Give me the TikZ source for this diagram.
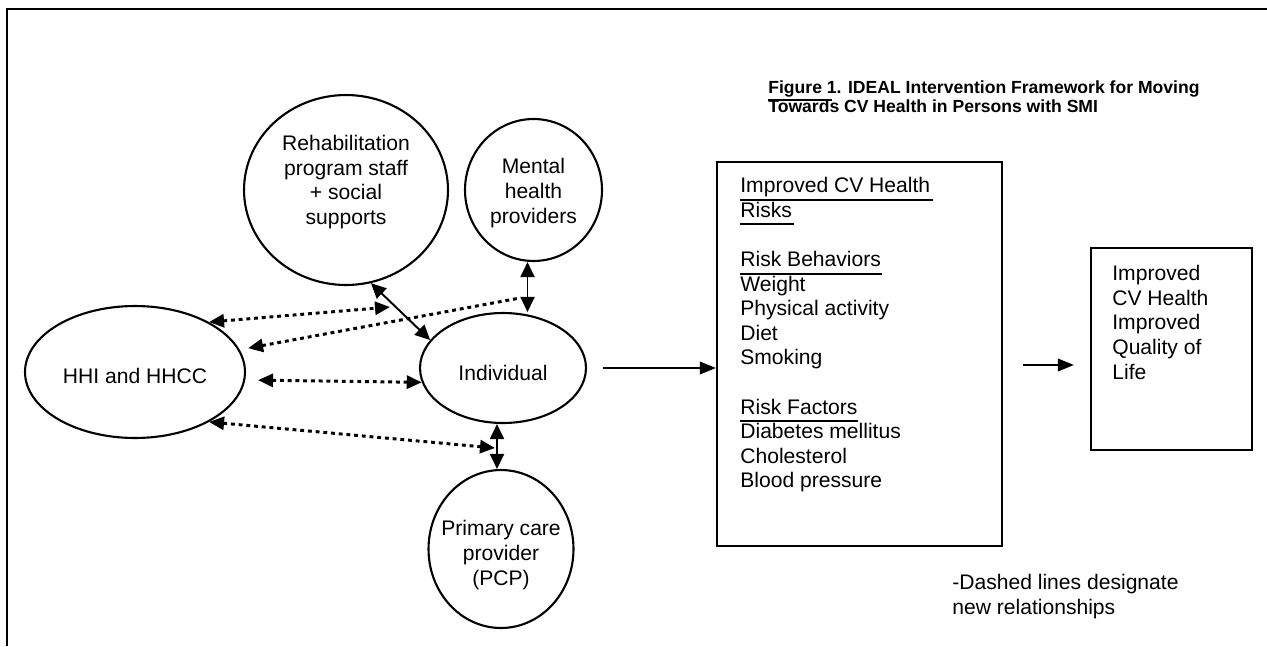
\documentclass[tikz,border=0pt]{standalone}
\usepackage{fontspec}
\setmainfont{Liberation Sans}
\usetikzlibrary{shapes.geometric,arrows.meta,calc}
\begin{document}
\begin{tikzpicture}[x=0.02cm,y=-0.02cm,
  txt/.style={font=\fontsize{12}{14}\selectfont},
  oval/.style={draw,ellipse,line width=1.2pt,inner sep=0pt},
  lab/.style 2 args={label={[txt,align=center,yshift=#1]center:#2}},
  both/.style={line width=1.1pt,{Triangle[length=0.3cm,width=0.28cm]}-{Triangle[length=0.3cm,width=0.28cm]}},
  dots/.style={line width=1.7pt,dash pattern=on 2.2pt off 2.2pt,{Triangle[length=0.3cm,width=0.26cm]}-{Triangle[length=0.3cm,width=0.26cm]}},
  dotsL/.style={line width=1.7pt,dash pattern=on 2.2pt off 2.2pt,{Triangle[length=0.3cm,width=0.26cm]}-},
  onearrow/.style={line width=1.1pt,-{Triangle[length=0.32cm,width=0.25cm]}},
  boxst/.style={draw,line width=1.3pt,inner sep=0pt},
  uline/.style={line width=1.6pt}
]
\useasboundingbox (0,0) rectangle (1267,646);
% frame
\draw[line width=1.6pt] (7,646) -- (7,9) -- (1267,9);

% title
\node[font=\fontsize{10}{10.6}\selectfont\bfseries,anchor=north west,align=left,inner sep=0pt] (title) at (768,80.5)
  {Figure 1. IDEAL Intervention Framework for Moving\\Towards CV Health in Persons with SMI};
\draw[line width=1.2pt] (768,100) -- (832,100);

% ovals
\node[oval,minimum width=4.08cm,minimum height=3.8cm,lab={0.16cm}{Rehabilitation\\program staff\\+ social\\supports}] (rehab) at (346,190) {};
\node[oval,minimum width=2.74cm,minimum height=2.84cm,lab={-0.06cm}{Mental\\health\\providers}] (mental) at (533.5,190) {};
\node[oval,minimum width=4.4cm,minimum height=2.64cm,lab={-0.08cm}{HHI and HHCC}] (hhi) at (135,372) {};
\node[oval,minimum width=3.32cm,minimum height=2.2cm,lab={-0.1cm}{Individual}] (ind) at (503,368) {};
\node[oval,minimum width=2.9cm,minimum height=3.16cm,lab={-0.12cm}{Primary care\\provider\\(PCP)}] (pcp) at (501,549) {};

% boxes
\node[boxst,minimum width=5.7cm,minimum height=7.68cm] (box1) at (859.5,354) {};
\node[txt,anchor=north west,align=left,inner sep=0pt] (box1text) at (740,177)
  {Improved CV Health\\Risks\\[14pt]Risk Behaviors\\Weight\\Physical activity\\Diet\\Smoking\\[14pt]Risk Factors\\Diabetes mellitus\\Cholesterol\\Blood pressure};
\draw[uline] (740,200) -- (933,200);
\draw[uline] (740,224) -- (794,224);
\draw[uline] (740,274) -- (882,274);
\draw[uline] (740,421) -- (858,421);

\node[boxst,minimum width=3.22cm,minimum height=4.04cm] (box2) at (1171.5,349) {};
\node[txt,anchor=north west,align=left,inner sep=0pt] (box2text) at (1112,265)
  {Improved\\CV Health\\Improved\\Quality of\\Life};

\node[txt,anchor=north west,align=left,inner sep=0pt] (note) at (952,574)
  {-Dashed lines designate\\new relationships};

% coordinates for free ends
\coordinate (d1) at (390,307);
\coordinate (d2) at (520,298);
\coordinate (d4) at (495,448);

% solid connectors
\draw[both] (rehab.-75) -- (ind.159);
\draw[both] ([xshift=-0.12cm]mental.south) -- ([xshift=-0.12cm]mental.south |- ind.north);
\draw[both] ([xshift=-0.12cm]ind.south) -- ([xshift=-0.12cm]ind.south |- pcp.north);
\draw[onearrow,shorten <=0.32cm] (ind.east) -- (ind.east -| box1.west);
\draw[onearrow,shorten <=0.4cm,shorten >=0.32cm] ([yshift=-0.22cm]box1.east) -- ([yshift=-0.22cm]box1.east -| box2.west);

% dotted connectors
\draw[dots] (hhi.34) -- (d1);
\draw[dotsL,shorten <=0.17cm] (hhi.12) -- (d2);
\draw[dots,shorten <=0.24cm] ([yshift=-0.16cm]hhi.east) -- (ind.190);
\draw[dots] (hhi.-34) -- (d4);
\end{tikzpicture}
\end{document}
